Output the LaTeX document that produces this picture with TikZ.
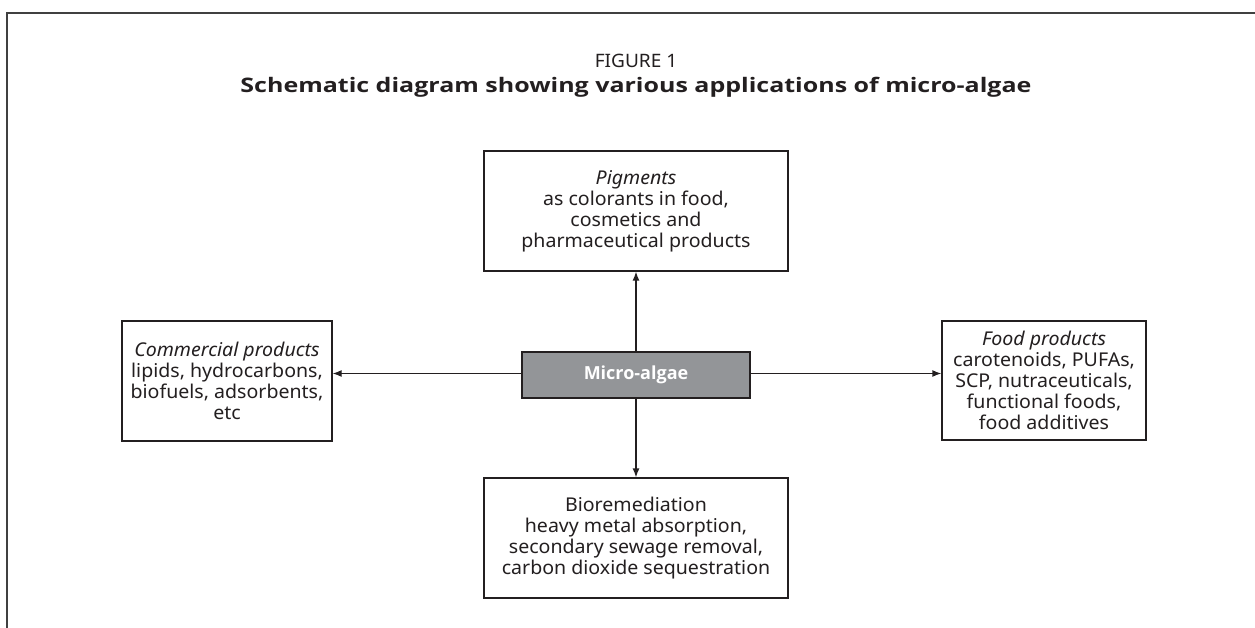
\documentclass[tikz,border=0pt]{standalone}
\usepackage{fontspec}
\setmainfont{Noto Sans}[FakeStretch=1.03]
\newfontfamily\titlefont{Open Sans}[FakeStretch=1.25]
\newfontfamily\microfont{Open Sans}
\usetikzlibrary{arrows.meta}
\definecolor{boxgray}{HTML}{939598}
\definecolor{ink}{HTML}{231F20}
\begin{document}
\begin{tikzpicture}[x=1pt,y=-1pt,
  box/.style={draw=ink,line width=1.3pt,fill=white,align=center,inner sep=0pt,text=ink,
    font=\fontsize{19}{21}\selectfont},
  conn/.style={-{Latex[length=9pt,width=7pt]},line width=1.3pt,draw=ink}]
\useasboundingbox (0,0) rectangle (1255,628);
\draw[line width=2.2pt,draw=black!75] (7,628) -- (7,13) -- (1255,13);
\node[text=ink,font=\fontsize{18.5}{21}\selectfont] (fig) at (636,61) {FIGURE 1};
\node[text=ink,font=\fontsize{20}{21}\titlefont\bfseries] (title) at (636,87) {Schematic diagram showing various applications of micro-algae};
\node[box,minimum width=304,minimum height=120] (pig) at (636,211)
  {\textit{Pigments}\\as colorants in food,\\cosmetics and\\pharmaceutical products};
\node[box,minimum width=210,minimum height=120] (com) at (227,381)
  {\textit{Commercial products}\\lipids, hydrocarbons,\\biofuels, adsorbents,\\etc};
\node[box,minimum width=204,minimum height=119] (food) at (1044,380.5)
  {\textit{Food products}\\carotenoids, PUFAs,\\SCP, nutraceuticals,\\functional foods,\\food additives};
\node[box,minimum width=304,minimum height=120] (bio) at (636,538)
  {Bioremediation\\heavy metal absorption,\\secondary sewage removal,\\carbon dioxide sequestration};
\node[box,fill=boxgray,text=white,font=\fontsize{18}{21}\microfont\bfseries,minimum width=228,minimum height=46] (micro) at (636,375) {Micro-algae};
\draw[conn] (micro.north) -- (pig.south);
\draw[conn] (micro.south) -- (bio.north);
\draw[conn] ([yshift=1.5]micro.west) -- ([yshift=1.5]micro.west -| com.east);
\draw[conn] ([yshift=1.5]micro.east) -- ([yshift=1.5]micro.east -| food.west);
\end{tikzpicture}
\end{document}
